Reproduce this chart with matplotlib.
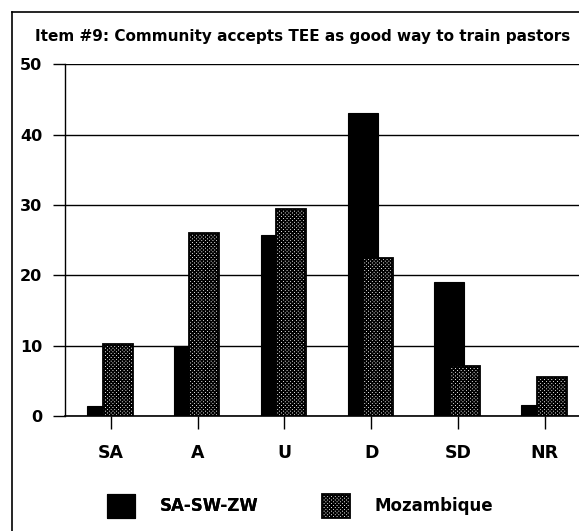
import matplotlib
matplotlib.use("Agg")
import matplotlib.pyplot as plt
import numpy as np
from matplotlib.lines import Line2D

categories = ["SA", "A", "U", "D", "SD", "NR"]
sa_sw_zw = [1.4, 10, 25.8, 43.1, 19.1, 1.6]
mozambique = [10.3, 26, 29.4, 22.5, 7.1, 5.5]
yticks = [0, 10, 20, 30, 40, 50]
title = "Item #9: Community accepts TEE as good way to train pastors"

plt.rcParams['font.family'] = ['DejaVu Sans']
plt.rcParams['hatch.linewidth'] = 1.1
plt.rcParams['hatch.color'] = 'black'

W, H = 579, 531
fig = plt.figure(figsize=(W / 100, H / 100), dpi=100)
ax = fig.add_axes([65 / W, (H - 416) / H, (579 - 65) / W, (416 - 64.5) / H])

x = np.arange(len(categories))
bw = 0.345
b1 = ax.bar(x - 0.10, sa_sw_zw, bw, color='black', edgecolor='black', linewidth=0.8,
            label='SA-SW-ZW', zorder=3)
b2 = ax.bar(x + 0.078, mozambique, bw, color='white', edgecolor='black', linewidth=1.3,
            hatch='xxxxxxxxx', label='Mozambique', zorder=4)

ax.set_ylim(0, 50)
ax.set_xlim(-0.528, 5.394)
ax.set_yticks(yticks)
ax.set_yticklabels([str(v) for v in yticks], fontsize=11.5, fontweight='bold')
ax.set_xticks(x)
ax.set_xticklabels(categories, fontsize=12.5, fontweight='bold')
ax.tick_params(axis='y', direction='out', length=9, width=1, pad=7.5)
ax.tick_params(axis='x', direction='out', length=9, width=1, pad=11.5)
ax.yaxis.grid(True, color='black', linewidth=1.0, zorder=0)
ax.set_axisbelow(True)
for s in ['top', 'right']:
    ax.spines[s].set_visible(False)
ax.spines['left'].set_linewidth(1.0)
ax.spines['bottom'].set_linewidth(1.2)

fig.text(303 / W, 1 - 36 / H, title, ha='center', va='center', fontsize=11,
         fontweight='bold')

# outer frame (scanned page border)
fig.add_artist(Line2D([12 / W, 12 / W], [0, 1 - 12 / H], color='black', linewidth=1.2,
                      transform=fig.transFigure))
fig.add_artist(Line2D([12 / W, 1], [1 - 12 / H, 1 - 12 / H], color='black', linewidth=1.2,
                      transform=fig.transFigure))

leg1 = fig.legend(handles=[b1], labels=['SA-SW-ZW'], loc='center left',
                  bbox_to_anchor=(107 / W, 1 - 506 / H), frameon=False,
                  borderpad=0, borderaxespad=0, handlelength=1.65, handleheight=1.8,
                  handletextpad=1.5, prop={'weight': 'bold', 'size': 12})
leg2 = fig.legend(handles=[b2], labels=['Mozambique'], loc='center left',
                  bbox_to_anchor=(322 / W, 1 - 506 / H), frameon=False,
                  borderpad=0, borderaxespad=0, handlelength=1.65, handleheight=1.8,
                  handletextpad=1.5, prop={'weight': 'bold', 'size': 12})
fig.add_artist(leg1)

fig.savefig("out.png", dpi=100)
